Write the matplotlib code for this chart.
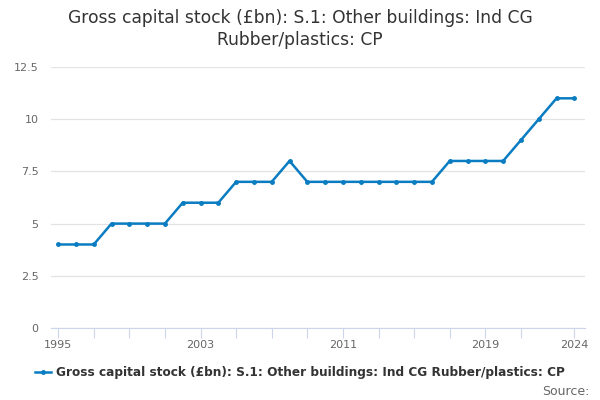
import matplotlib
matplotlib.use("Agg")
import matplotlib.pyplot as plt

years = list(range(1995, 2025))
values = [4, 4, 4, 5, 5, 5, 5, 6, 6, 6, 7, 7, 7, 8, 7,
          7, 7, 7, 7, 7, 7, 7, 8, 8, 8, 8, 9, 10, 11, 11]
label = "Gross capital stock (£bn): S.1: Other buildings: Ind CG Rubber/plastics: CP"
title = "Gross capital stock (£bn): S.1: Other buildings: Ind CG\nRubber/plastics: CP"
yticks = [0, 2.5, 5, 7.5, 10, 12.5]
ytick_labels = ["0", "2.5", "5", "7.5", "10", "12.5"]
xlabel_years = [1995, 2003, 2011, 2019, 2024]
xtick_years = list(range(1995, 2022, 2)) + [2024]

color = "#0a7cc1"

fig = plt.figure(figsize=(6, 4), dpi=100)
ax = fig.add_axes([0.085, 0.18, 0.89, 0.6525])

ax.plot(years, values, color=color, lw=1.8, marker="o", ms=2.5, label=label)

ax.set_xlim(1994.6, 2024.6)
ax.set_ylim(0, 12.5)
ax.set_yticks(yticks)
ax.set_yticklabels(ytick_labels)
ax.yaxis.grid(True, color="#e3e3e3", lw=0.9)
ax.set_axisbelow(True)

ax.set_xticks(xtick_years)
ax.set_xticklabels([str(y) if y in xlabel_years else "" for y in xtick_years])
ax.tick_params(axis="x", length=7, color="#ccd6eb", labelsize=8, labelcolor="#666666", pad=2)
ax.tick_params(axis="y", length=0, labelsize=8, labelcolor="#666666", pad=9)

for s in ["top", "right", "left"]:
    ax.spines[s].set_visible(False)
ax.spines["bottom"].set_color("#ccd6eb")

fig.text(0.5, 0.977, title, ha="center", va="top", fontsize=12.3, color="#333333",
         linespacing=1.3)

leg = fig.legend(loc="center", bbox_to_anchor=(0.5, 0.068), frameon=False,
                 handlelength=1.3, handletextpad=0.4,
                 prop={"size": 8.7, "weight": "bold"})
for t in leg.get_texts():
    t.set_color("#333333")

fig.text(0.982, 0.005, "Source:", ha="right", va="bottom", fontsize=9, color="#666666")

fig.savefig("out.png", dpi=100)
